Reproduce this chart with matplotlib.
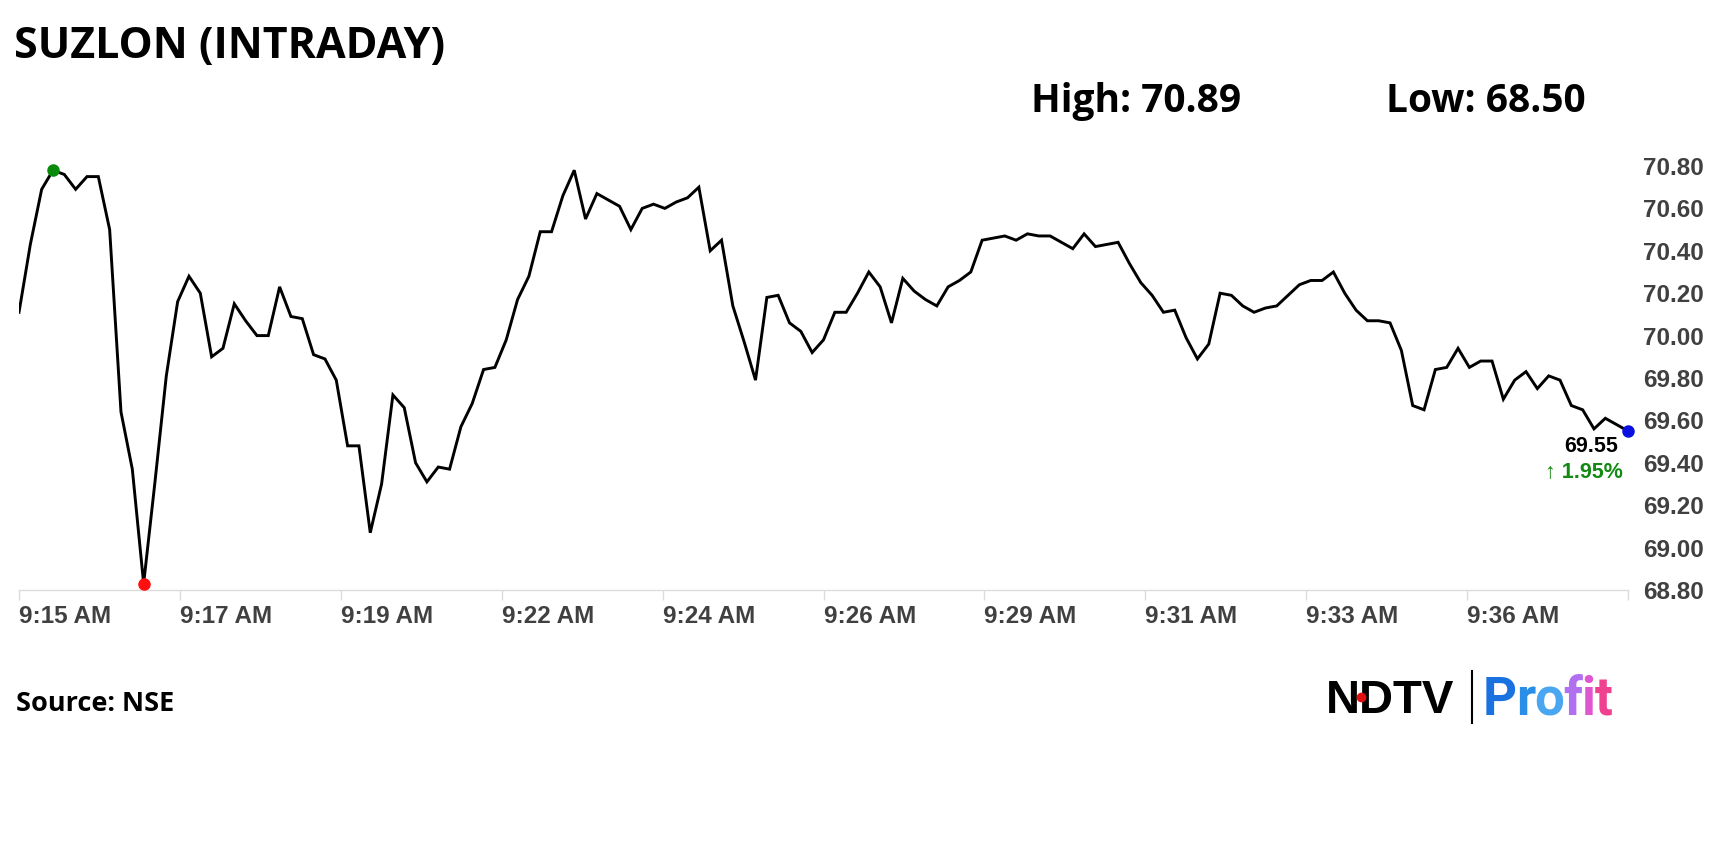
import matplotlib
matplotlib.use("Agg")
import matplotlib.pyplot as plt
import numpy as np
from matplotlib.lines import Line2D

# intraday prices, one point per step
prices = [70.11, 70.43, 70.69, 70.78, 70.76, 70.69, 70.75, 70.75, 70.50, 69.64,
          69.37, 68.83, 69.31, 69.81, 70.16, 70.28, 70.20, 69.90, 69.94, 70.15,
          70.07, 70.00, 70.00, 70.23, 70.09, 70.08, 69.91, 69.89, 69.79, 69.48,
          69.48, 69.07, 69.30, 69.72, 69.66, 69.40, 69.31, 69.38, 69.37, 69.57,
          69.68, 69.84, 69.85, 69.98, 70.17, 70.28, 70.49, 70.49, 70.66, 70.78,
          70.55, 70.67, 70.64, 70.61, 70.50, 70.60, 70.62, 70.60, 70.63, 70.65,
          70.70, 70.40, 70.45, 70.14, 69.97, 69.79, 70.18, 70.19, 70.06, 70.02,
          69.92, 69.98, 70.11, 70.11, 70.20, 70.30, 70.23, 70.06, 70.27, 70.21,
          70.17, 70.14, 70.23, 70.26, 70.30, 70.45, 70.46, 70.47, 70.45, 70.48,
          70.47, 70.47, 70.44, 70.41, 70.48, 70.42, 70.43, 70.44, 70.34, 70.25,
          70.19, 70.11, 70.12, 69.99, 69.89, 69.96, 70.20, 70.19, 70.14, 70.11,
          70.13, 70.14, 70.19, 70.24, 70.26, 70.26, 70.30, 70.20, 70.12, 70.07,
          70.07, 70.06, 69.93, 69.67, 69.65, 69.84, 69.85, 69.94, 69.85, 69.88,
          69.88, 69.70, 69.79, 69.83, 69.75, 69.81, 69.79, 69.67, 69.65, 69.56,
          69.61, 69.58, 69.55]
time_labels = ['9:15 AM', '9:17 AM', '9:19 AM', '9:22 AM', '9:24 AM', '9:26 AM',
               '9:29 AM', '9:31 AM', '9:33 AM', '9:36 AM', '']
y_ticks = [68.80, 69.00, 69.20, 69.40, 69.60, 69.80, 70.00, 70.20, 70.40, 70.60, 70.80]
day_high = 70.89
day_low = 68.50
change_pct = 1.95

W, H = 1726, 860
fig = plt.figure(figsize=(W / 100, H / 100), dpi=100)
fig.patch.set_facecolor('white')

ax = fig.add_axes([19 / W, 1 - 590 / H, (1628 - 19) / W, (590 - 144.8) / H])
x = np.arange(len(prices))
p = np.array(prices)
ax.plot(x, p, color='black', lw=2.1, solid_joinstyle='miter', zorder=3)

imax = int(np.argmax(p))
imin = int(np.argmin(p))
ax.plot(x[imax], p[imax], 'o', color='#0a8a0a', ms=8, zorder=4, clip_on=False)
ax.plot(x[imin], p[imin], 'o', color='#ff1010', ms=8, zorder=4, clip_on=False)
ax.plot(x[-1], p[-1], 'o', color='#0a10e0', ms=8, zorder=4, clip_on=False)

ax.set_xlim(0, len(prices) - 1)
ax.set_ylim(68.80, 70.90)

for s in ['top', 'left', 'right']:
    ax.spines[s].set_visible(False)
ax.spines['bottom'].set_color('#dcdcdc')
ax.spines['bottom'].set_linewidth(1)

tick_font = dict(family=['Liberation Sans', 'DejaVu Sans'], weight='bold')
ax.set_xticks(np.linspace(0, len(prices) - 1, len(time_labels)))
ax.set_xticklabels(time_labels, color='#404040', fontsize=17.5, **tick_font)
for lab in ax.get_xticklabels():
    lab.set_ha('left')
ax.tick_params(axis='x', length=7, width=1, color='#dcdcdc', pad=4)

ax.set_yticks(y_ticks)
ax.set_yticklabels([f'{v:.2f}' for v in y_ticks], color='#404040', fontsize=17.5, **tick_font)
ax.yaxis.tick_right()
ax.tick_params(axis='y', length=0, pad=11)

# last price annotation
ax.annotate(f'{p[-1]:.2f}', xy=(x[-1], p[-1]), xytext=(-7, -11), textcoords='offset points',
            ha='right', va='center', fontsize=15.5, color='black', **tick_font)
ax.annotate(f'\u2191 {change_pct:.2f}%', xy=(x[-1], p[-1]), xytext=(-4, -30), textcoords='offset points',
            ha='right', va='center', fontsize=15.5, color='#138a13', **tick_font)

# header and footer
head_font = dict(family=['Open Sans', 'DejaVu Sans'], weight='bold', color='black')
fig.text(14 / W, 1 - 58 / H, 'SUZLON (INTRADAY)', fontsize=31, va='baseline', ha='left', **head_font)
fig.text(1031 / W, 1 - 112 / H, f'High: {day_high:.2f}', fontsize=28, va='baseline', ha='left', **head_font)
fig.text(1386 / W, 1 - 112 / H, f'Low: {day_low:.2f}', fontsize=28, va='baseline', ha='left', **head_font)
fig.text(16 / W, 1 - 711 / H, 'Source: NSE', fontsize=19.5, va='baseline', ha='left', **head_font)

# logo
fig.text(1326 / W, 1 - 713 / H, 'NDTV', fontsize=34, va='baseline', ha='left',
         family=['Liberation Sans', 'DejaVu Sans'], weight='bold', color='black')
fig.add_artist(Line2D([1361 / W], [1 - 697 / H], marker='o', ms=6, color='#e01010',
                      transform=fig.transFigure, zorder=5))
fig.add_artist(Line2D([1472 / W, 1472 / W], [1 - 671 / H, 1 - 723 / H], color='black', lw=1.5,
                      transform=fig.transFigure))
profit_colors = ['#1a72e0', '#2a8ee8', '#4aa6f0', '#b070f0', '#e055d0', '#f04090']
fig.canvas.draw()
renderer = fig.canvas.get_renderer()
xpos = 1483
for ch, col in zip('Profit', profit_colors):
    t = fig.text(xpos / W, 1 - 715 / H, ch, fontsize=38, va='baseline', ha='left',
                 family=['Roboto', 'DejaVu Sans'], weight='bold', color=col)
    xpos += t.get_window_extent(renderer).width - 1

fig.savefig('out.png', dpi=100, facecolor='white')
